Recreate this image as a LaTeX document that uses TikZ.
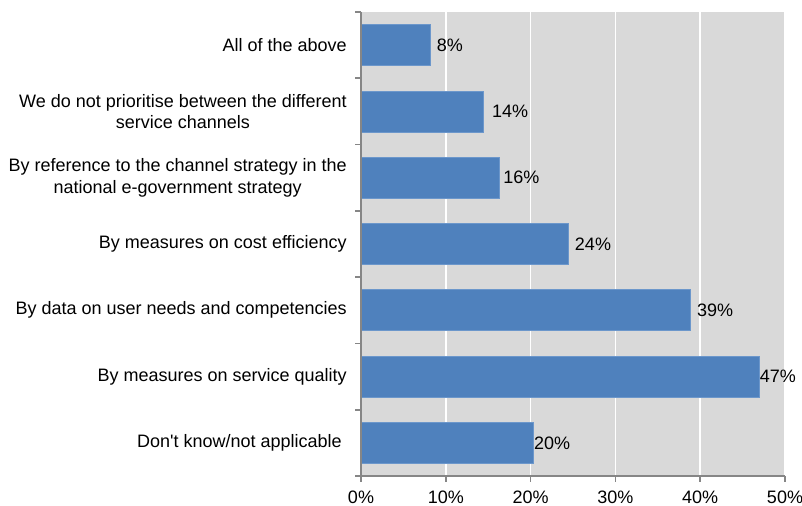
\documentclass[tikz,border=0pt]{standalone}
\usepackage{fontspec}
\setmainfont{Liberation Sans}
\usetikzlibrary{positioning}
\definecolor{barblue}{HTML}{4F81BD}
\definecolor{barline}{HTML}{6C97CB}
\definecolor{plotgray}{HTML}{D9D9D9}
\definecolor{axisgray}{HTML}{868686}
\tikzset{bar/.style={draw=barline,
                     fill=barblue,
                     line width=0.6pt,
                     inner sep=0pt,
                     anchor=west}}
\tikzset{chart text/.style={inner sep=0pt,
                            font=\fontsize{13.5}{16}\selectfont}}
\tikzset{cat label/.style={chart text,anchor=east,align=center}}
\tikzset{grid line/.style={draw=white,line width=1.3pt}}
\tikzset{axis line/.style={draw=axisgray,line width=1.3pt}}

\begin{document}
\begin{tikzpicture}[x=0.75pt,y=-0.75pt]
    \useasboundingbox (0,0) rectangle (802,506);

    % plot area
    \fill [plotgray] (361,12) rectangle (785,476);
    \foreach \g in {1,...,5}
    {
    \draw [grid line] (361+\g*84.8,12) -- (361+\g*84.8,476);
    }

    % bars
    \foreach \i/\v/\p/\gap/\l [evaluate=\i as \y using 12+(\i-0.5)*66.29] in
    {
      1/8.1/8/6/{All of the above},
      2/14.4/14/8/{We do not prioritise between the different\\service channels},
      3/16.3/16/3/{By reference to the channel strategy in the\\national e-government strategy},
      4/24.4/24/6/{By measures on cost efficiency},
      5/38.8/39/6/{By data on user needs and competencies},
      6/46.9/47/0/{By measures on service quality},
      7/20.3/20/0/{Don\textquotesingle t know/not applicable}
    }
    {
    \node [bar,minimum width=\v*6.36pt,minimum height=30.75pt] (B\i) at (361,\y) {};
    \node [chart text,right=\gap*0.75pt of B\i.east] (V\i) {\p\%};
    \node [cat label] (C\i) at (347,\y) {\l};
    }

    % axes
    \draw [axis line] (361,12) -- (361,476) -- (785,476);
    \foreach \k in {0,...,7}
    {
    \draw [axis line] (355,12+\k*66.29) -- (361,12+\k*66.29);
    }
    \foreach \p/\t in {0/0,1/10,2/20,3/30,4/40,5/50}
    {
    \draw [axis line] (361+\p*84.8,476) -- (361+\p*84.8,482);
    \node [chart text] (T\p) at (361+\p*84.8,497) {\t\%};
    }
  \end{tikzpicture}
\end{document}
